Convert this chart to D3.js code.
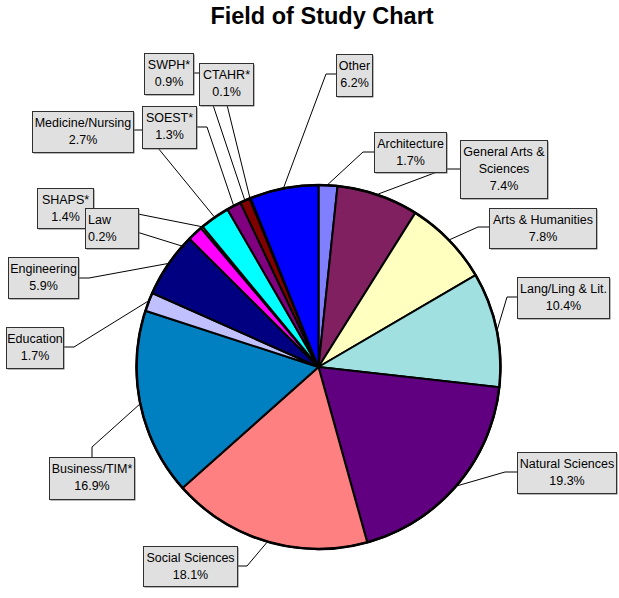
<!DOCTYPE html>
<html>
<head>
<meta charset="utf-8">
<script src="https://cdn.jsdelivr.net/npm/d3@7"></script>
<style>
  body { margin: 0; background: #fff; }
  text { font-family: Arial, "Liberation Sans", sans-serif; }
</style>
</head>
<body>
<svg></svg>
<script>
// fields in drawing order (clockwise from 12 o'clock)
const fields = ["Architecture", "General Arts & Sciences", "Arts & Humanities", "Lang/Ling & Lit.",
    "Natural Sciences", "Social Sciences", "Business/TIM*", "Education", "Engineering",
    "SHAPS*", "Law", "Medicine/Nursing", "SOEST*", "SWPH*", "CTAHR*", "Other"];
const percents = [1.7, 7.4, 7.8, 10.4, 19.3, 18.1, 16.9, 1.7, 5.9, 1.4, 0.2, 2.7, 1.3, 0.9, 0.1, 6.2];
const colors = ["#8080ff", "#802060", "#ffffc0", "#a0e0e0", "#600080", "#ff8080", "#0080c0", "#c0c0ff",
    "#000080", "#ff00ff", "#ffff00", "#00ffff", "#800080", "#800000", "#008080", "#0000ff"];

// label boxes: text lines, box, leader points (leader ends on the slice's arc)
const labelLayout = {
    "Architecture": { lines: ["Architecture"], x: 374, y: 132, w: 72, h: 40, pts: [[374, 152], [363, 152]] },
    "General Arts & Sciences": { lines: ["General Arts &", "Sciences"], x: 460, y: 140, w: 87, h: 58, pts: [[460, 169], [447, 169], [437, 172]] },
    "Arts & Humanities": { lines: ["Arts & Humanities"], x: 489, y: 208, w: 107, h: 40, pts: [[489, 227], [478, 227]] },
    "Lang/Ling & Lit.": { lines: ["Lang/Ling & Lit."], x: 517, y: 277, w: 92, h: 41, pts: [[517, 297], [507, 297]] },
    "Natural Sciences": { lines: ["Natural Sciences"], x: 517, y: 452, w: 99, h: 41, pts: [[517, 472], [505, 472]] },
    "Social Sciences": { lines: ["Social Sciences"], x: 143, y: 546, w: 94, h: 40, pts: [[237, 566], [247, 566]] },
    "Business/TIM*": { lines: ["Business/TIM*"], x: 49, y: 457, w: 85, h: 42, pts: [[92, 457], [92, 447]] },
    "Education": { lines: ["Education"], x: 6, y: 327, w: 57, h: 41, pts: [[63, 347], [74, 347]] },
    "Engineering": { lines: ["Engineering"], x: 8, y: 257, w: 70, h: 41, pts: [[78, 278], [89, 278]] },
    "SHAPS*": { lines: ["SHAPS*"], x: 37, y: 188, w: 56, h: 40, pts: [[92, 218], [140, 233]], end: [185, 247] },
    "Law": { lines: ["Law"], x: 85, y: 208, w: 53, h: 40, pts: [[138, 214]], align: "start" },
    "Medicine/Nursing": { lines: ["Medicine/Nursing"], x: 32, y: 111, w: 101, h: 41, pts: [[133, 130], [145, 130], [158, 148]] },
    "SOEST*": { lines: ["SOEST*"], x: 142, y: 106, w: 54, h: 42, pts: [[196, 127], [207, 127]] },
    "SWPH*": { lines: ["SWPH*"], x: 144, y: 53, w: 49, h: 41, pts: [[193, 73], [205, 73], [213, 105]] },
    "CTAHR*": { lines: ["CTAHR*"], x: 199, y: 63, w: 54, h: 42, pts: [[227, 105]] },
    "Other": { lines: ["Other"], x: 336, y: 54, w: 36, h: 42, pts: [[336, 74], [326, 74]] }
};

const width = 619;
const height = 598;
const cx = 318.5, cy = 367, radius = 182;

const svg = d3.select("svg")
    .attr("width", width)
    .attr("height", height);

svg.append("text")
    .attr("x", 322)
    .attr("y", 24)
    .attr("text-anchor", "middle")
    .attr("font-size", 23.5)
    .attr("font-weight", "bold")
    .text("Field of Study Chart");

const data = fields.map((f, i) => ({ field: f, value: percents[i], color: colors[i] }));

const pie = d3.pie().sort(null).value(d => d.value);
const arcs = pie(data);

const arc = d3.arc().innerRadius(0).outerRadius(radius);

const g = svg.append("g").attr("transform", `translate(${cx},${cy})`);

g.selectAll("path")
    .data(arcs)
    .enter().append("path")
    .attr("d", arc)
    .attr("fill", d => d.data.color)
    .attr("stroke", "#000")
    .attr("stroke-width", 2)
    .attr("stroke-linejoin", "round");

g.append("circle")
    .attr("r", radius)
    .attr("fill", "none")
    .attr("stroke", "#000")
    .attr("stroke-width", 2.5);

// leader lines (drawn before boxes so boxes hide the inner parts)
const line = d3.line();
const leaders = svg.append("g");
arcs.forEach(d => {
    const lay = labelLayout[d.data.field];
    const mid = (d.startAngle + d.endAngle) / 2;
    const end = lay.end || [cx + (radius + 1) * Math.sin(mid), cy - (radius + 1) * Math.cos(mid)];
    leaders.append("path")
        .attr("d", line(lay.pts.concat([end])))
        .attr("fill", "none")
        .attr("stroke", "#000")
        .attr("stroke-width", 1);
});

// boxes, SHAPS before Law so Law sits on top
const boxOrder = fields.filter(f => f !== "Law").concat(["Law"]);
const boxes = svg.append("g");
boxOrder.forEach(f => {
    const lay = labelLayout[f];
    const d = data.find(e => e.field === f);
    const b = boxes.append("g");
    b.append("rect")
        .attr("x", lay.x + 1.5)
        .attr("y", lay.y + 1.5)
        .attr("width", lay.w)
        .attr("height", lay.h)
        .attr("fill", "#707070");
    b.append("rect")
        .attr("x", lay.x + 0.5)
        .attr("y", lay.y + 0.5)
        .attr("width", lay.w)
        .attr("height", lay.h)
        .attr("fill", "#e0e0e0")
        .attr("stroke", "#303030")
        .attr("stroke-width", 1);
    const lines = lay.lines.concat([d.value.toFixed(1) + "%"]);
    const start = lay.align === "start";
    lines.forEach((t, i) => {
        b.append("text")
            .attr("x", start ? lay.x + 3 : lay.x + lay.w / 2 + 0.5)
            .attr("y", lay.y + 16 + i * 17)
            .attr("text-anchor", start ? "start" : "middle")
            .attr("font-size", 12.5)
            .attr("fill", "#000")
            .text(t);
    });
});
</script>
</body>
</html>
